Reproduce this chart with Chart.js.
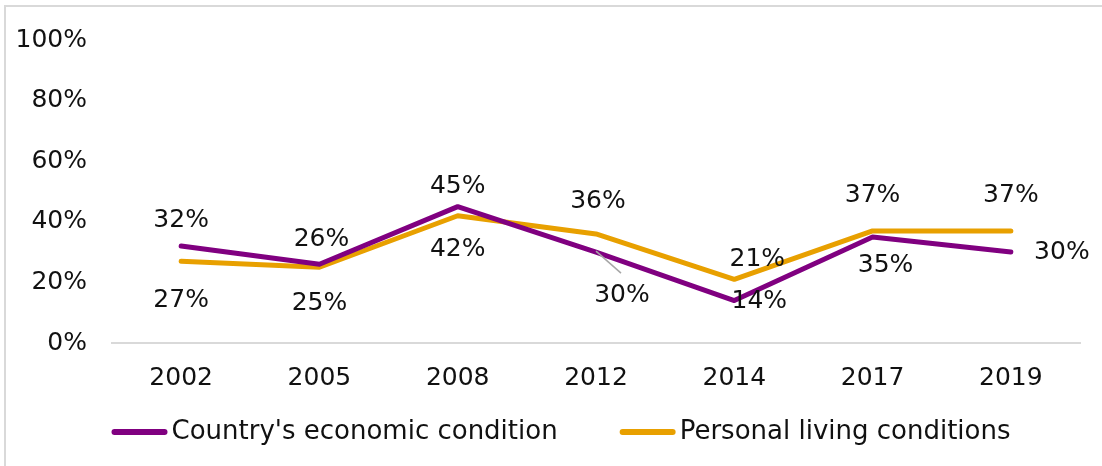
<!DOCTYPE html>
<html>
<head>
<meta charset="utf-8">
<script src="https://cdn.jsdelivr.net/npm/chart.js@4.4.1/dist/chart.umd.min.js"></script>
<style>
  html, body { margin: 0; padding: 0; background: #fff; }
  #frame { position: absolute; left: 4px; top: 5px; width: 1098px; height: 461px;
           border-top: 2px solid #d9d9d9; border-left: 2px solid #d9d9d9; box-sizing: border-box; }
  #wrap { position: absolute; left: 0; top: 0; width: 1102px; height: 466px; }
</style>
</head>
<body>
<div id="frame"></div>
<div id="wrap"><canvas id="c" width="1102" height="466"></canvas></div>
<script>
const years = ['2002', '2005', '2008', '2012', '2014', '2017', '2019'];
const countryEconomic = [32, 26, 45, 30, 14, 35, 30];
const personalLiving = [27, 25, 42, 36, 21, 37, 37];
const seriesNames = ["Country's economic condition", 'Personal living conditions'];

// label offsets (style only, in px relative to each point)
const countryLabelDx = [0, 2, 0, 26, 25, 13, 51];
const countryLabelDy = [-26, -25, -20, 43, 1, 29, 0];
const personalLabelDx = [0, 0, 0, 2, 23, 0, 0];
const personalLabelDy = [39, 36, 34, -32, -20, -35, -35];

const FONT = '"DejaVu Sans", sans-serif';
const FS = 25;
const LEG_FS = 26;
const TXT = '#111111';

const labelPlugin = {
  id: 'pointLabels',
  afterDatasetsDraw(chart) {
    const ctx = chart.ctx;
    const offsets = [[countryLabelDx, countryLabelDy], [personalLabelDx, personalLabelDy]];
    ctx.save();
    ctx.font = FS + 'px ' + FONT;
    ctx.fillStyle = TXT;
    ctx.textAlign = 'center';
    ctx.textBaseline = 'middle';
    chart.data.datasets.forEach((ds, di) => {
      const meta = chart.getDatasetMeta(di);
      meta.data.forEach((pt, i) => {
        const dx = offsets[di][0][i], dy = offsets[di][1][i];
        if (di === 0 && i === 3) {
          ctx.save();
          ctx.strokeStyle = '#a6a6a6';
          ctx.lineWidth = 1.5;
          ctx.beginPath();
          ctx.moveTo(pt.x, pt.y - 1);
          ctx.lineTo(pt.x + 25, pt.y + 21);
          ctx.stroke();
          ctx.restore();
        }
        ctx.fillText(ds.data[i] + '%', pt.x + dx, pt.y + dy);
      });
    });
    ctx.restore();
  }
};

const legendPlugin = {
  id: 'lineLegend',
  afterDraw(chart) {
    const ctx = chart.ctx;
    ctx.save();
    ctx.font = LEG_FS + 'px ' + FONT;
    const lineW = 56, gapText = 4, gapItem = 62;
    const items = chart.data.datasets.map(ds => ({ text: ds.label, color: ds.borderColor, w: ctx.measureText(ds.label).width }));
    let total = 0;
    items.forEach((it, i) => { total += lineW + gapText + it.w + (i ? gapItem : 0); });
    let x = 561 - total / 2;
    const y = 432;
    items.forEach((it, i) => {
      if (i) x += gapItem;
      ctx.strokeStyle = it.color;
      ctx.lineWidth = 6;
      ctx.lineCap = 'round';
      ctx.beginPath();
      ctx.moveTo(x + 3, y);
      ctx.lineTo(x + lineW - 3, y);
      ctx.stroke();
      x += lineW + gapText;
      ctx.fillStyle = TXT;
      ctx.textAlign = 'left';
      ctx.textBaseline = 'middle';
      ctx.fillText(it.text, x, y);
      x += it.w;
    });
    ctx.restore();
  }
};

new Chart(document.getElementById('c'), {
  type: 'line',
  data: {
    labels: years,
    datasets: [
      { label: seriesNames[0], data: countryEconomic, borderColor: '#800080', backgroundColor: '#800080',
        borderWidth: 5, pointRadius: 0, tension: 0, borderCapStyle: 'round', borderJoinStyle: 'round' },
      { label: seriesNames[1], data: personalLiving, borderColor: '#E8A000', backgroundColor: '#E8A000',
        borderWidth: 5, pointRadius: 0, tension: 0, borderCapStyle: 'round', borderJoinStyle: 'round' }
    ]
  },
  options: {
    responsive: false,
    animation: false,
    layout: { padding: { left: 0, right: 22, top: 15, bottom: 53 } },
    plugins: {
      legend: { display: false },
      tooltip: { enabled: false }
    },
    scales: {
      x: {
        offset: true,
        grid: { display: false, drawTicks: false },
        border: { display: true, color: '#d9d9d9', width: 2 },
        ticks: { color: TXT, padding: 20, font: { family: FONT, size: FS } }
      },
      y: {
        min: 0, max: 100,
        afterFit(s) { s.width = 112; },
        grid: { display: false, drawTicks: false },
        border: { display: false },
        ticks: { stepSize: 20, color: TXT, padding: 25, font: { family: FONT, size: FS },
                 callback: v => v + '%' }
      }
    }
  },
  plugins: [labelPlugin, legendPlugin]
});
</script>
</body>
</html>
